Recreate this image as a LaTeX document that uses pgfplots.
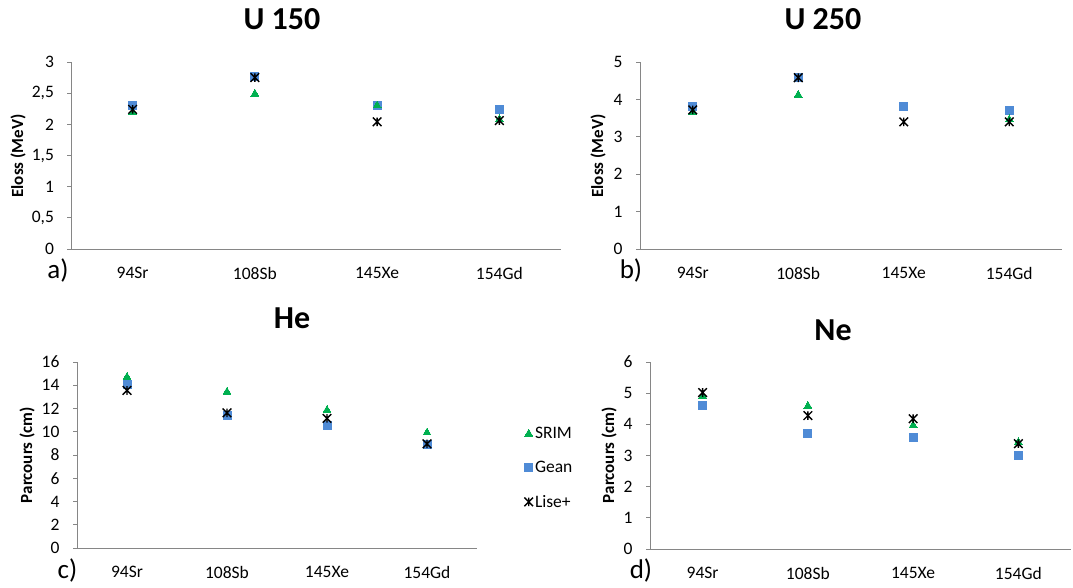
\documentclass[border=0pt]{standalone}
\usepackage{fontspec}
\setmainfont{Carlito}
\usepackage{pgfplots}
\usepackage{pgfplotstable}
\pgfplotsset{compat=1.18}

\definecolor{srimgreen}{HTML}{00B050}
\definecolor{geanblue}{HTML}{4F8BD6}
\definecolor{axisgray}{HTML}{868686}

% Excel-like "star": a cross with a vertical bar through it
\pgfdeclareplotmark{xstar}{%
  \pgfpathmoveto{\pgfqpoint{-\pgfplotmarksize}{-\pgfplotmarksize}}%
  \pgfpathlineto{\pgfqpoint{\pgfplotmarksize}{\pgfplotmarksize}}%
  \pgfpathmoveto{\pgfqpoint{-\pgfplotmarksize}{\pgfplotmarksize}}%
  \pgfpathlineto{\pgfqpoint{\pgfplotmarksize}{-\pgfplotmarksize}}%
  \pgfpathmoveto{\pgfqpoint{0pt}{-\pgfplotmarksize}}%
  \pgfpathlineto{\pgfqpoint{0pt}{\pgfplotmarksize}}%
  \pgfusepathqstroke}

% Energy loss, U 150 (MeV)
\pgfplotstableread{
x srim gean lise
0 2.19 2.31 2.24
1 2.49 2.76 2.75
2 2.30 2.30 2.04
3 2.08 2.23 2.06
}\uonefifty

% Energy loss, U 250 (MeV)
\pgfplotstableread{
x srim gean lise
0 3.66 3.80 3.72
1 4.12 4.59 4.58
2 nan  3.80 3.40
3 3.46 3.71 3.40
}\utwofifty

% Range in He (cm)
\pgfplotstableread{
x srim gean lise
0 14.70 14.10 13.55
1 13.43 11.43 11.63
2 11.86 10.57 11.15
3  9.92  8.94  8.96
}\helium

% Range in Ne (cm)
\pgfplotstableread{
x srim gean lise
0 4.90 4.62 5.02
1 4.59 3.69 4.28
2 3.97 3.59 4.18
3 3.43 3.00 3.38
}\neon

\newcommand\ticksize{\fontsize{17.5}{20}\selectfont}

\pgfplotsset{
  panel/.style={
    scale only axis,
    xmin=-0.5, xmax=3.5, ymin=0,
    axis x line*=bottom, axis y line*=left,
    axis line style={axisgray, line width=0.9pt},
    xtick={0,1,2,3}, xticklabels={94Sr,108Sb,145Xe,154Gd},
    major x tick style={draw=none},
    major y tick style={axisgray, line width=0.9pt},
    tick align=outside, major tick length=4pt,
    tick label style={font=\ticksize, text=black},
    /pgf/number format/assume math mode=true,
    /pgf/number format/use comma,
    yticklabel style={xshift=-10pt},
    xticklabel style={yshift=-11pt},
    clip=false,
  },
  pSRIM/.style={only marks, mark=triangle*, mark size=4.6pt,
    mark options={fill=srimgreen, draw=srimgreen, line width=0pt}},
  pGean/.style={only marks, mark=square*, mark size=4pt,
    mark options={fill=geanblue, draw=geanblue, line width=0pt}},
  pLise/.style={only marks, mark=xstar, mark size=4.3pt,
    mark options={draw=black, line width=1.4pt}},
}

\begin{document}
\begin{tikzpicture}[x=1pt, y=1pt]
\useasboundingbox (0,0) rectangle (1073,587);

% a) U 150
\begin{axis}[panel, at={(71.5pt,338pt)}, anchor=south west,
  width=489pt, height=187pt, ymax=3, ytick={0,0.5,...,3}]
  \addplot[pGean] table[x=x, y=gean] {\uonefifty};
  \addplot[pSRIM] table[x=x, y=srim] {\uonefifty};
  \addplot[pLise] table[x=x, y=lise] {\uonefifty};
\end{axis}

% b) U 250
\begin{axis}[panel, at={(640pt,338pt)}, anchor=south west,
  width=422pt, height=187pt, ymax=5, ytick={0,1,...,5}]
  \addplot[pGean] table[x=x, y=gean] {\utwofifty};
  \addplot[pSRIM] table[x=x, y=srim] {\utwofifty};
  \addplot[pLise] table[x=x, y=lise] {\utwofifty};
\end{axis}

% c) He, with the legend
\begin{axis}[panel, at={(77pt,39pt)}, anchor=south west,
  width=400pt, height=186pt, ymax=16, ytick={0,2,...,16},
  legend style={at={(axis description cs:1.118,0.43)}, anchor=west,
    draw=none, fill=none, font=\ticksize, row sep=17pt, inner sep=0pt,
    cells={anchor=west},
    /tikz/every even column/.append style={column sep=3pt}},
  legend image code/.code={\draw[mark repeat=1,#1] plot coordinates {(4.5pt,0pt)};}]
  \addlegendimage{pSRIM}\addlegendentry{SRIM}
  \addlegendimage{pGean}\addlegendentry{Gean}
  \addlegendimage{pLise}\addlegendentry{Lise+}
  \addplot[pGean, forget plot] table[x=x, y=gean] {\helium};
  \addplot[pSRIM, forget plot] table[x=x, y=srim] {\helium};
  \addplot[pLise, forget plot] table[x=x, y=lise] {\helium};
\end{axis}

% d) Ne
\begin{axis}[panel, at={(650pt,38pt)}, anchor=south west,
  width=421pt, height=187pt, ymax=6, ytick={0,1,...,6}]
  \addplot[pGean] table[x=x, y=gean] {\neon};
  \addplot[pSRIM] table[x=x, y=srim] {\neon};
  \addplot[pLise] table[x=x, y=lise] {\neon};
\end{axis}

% titles
\begin{scope}[every node/.style={font=\bfseries\fontsize{32}{36}\selectfont}]
  \node at (282,568) {U 150};
  \node at (823,568) {U 250};
  \node at (292,268.5) {He};
  \node at (833,256.5) {Ne};
\end{scope}

% axis titles
\begin{scope}[every node/.style={font=\bfseries\fontsize{17}{20}\selectfont, rotate=90}]
  \node at (18,431) {Eloss (MeV)};
  \node at (598,431) {Eloss (MeV)};
  \node at (27,132) {Parcours (cm)};
  \node at (609,132) {Parcours (cm)};
\end{scope}

% panel letters
\begin{scope}[every node/.style={font=\fontsize{27}{30}\selectfont, anchor=base, inner sep=0pt}]
  \node at (58,308) {a)};
  \node at (631,308) {b)};
  \node at (67.5,9) {c)};
  \node at (641,9) {d)};
\end{scope}
\end{tikzpicture}
\end{document}
